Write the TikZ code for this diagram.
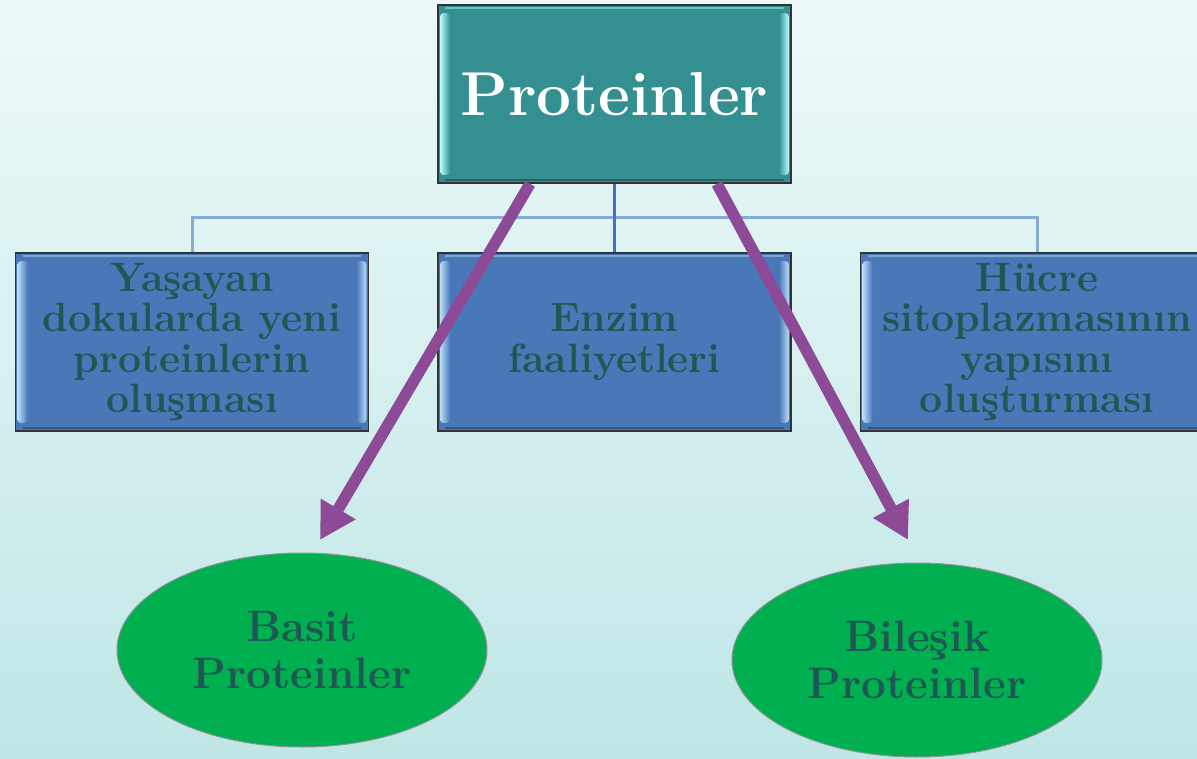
\documentclass[tikz,border=0pt]{standalone}
\usetikzlibrary{shapes.geometric,arrows.meta,calc}
\definecolor{bgtop}{HTML}{EDF9F9}
\definecolor{bgbot}{HTML}{BFE6E6}
\definecolor{tealbox}{HTML}{338F90}
\definecolor{teallight}{HTML}{B5FFFF}
\definecolor{bluebox}{HTML}{4878B8}
\definecolor{bluelight}{HTML}{B8DCF8}
\definecolor{txtdark}{HTML}{1F5853}
\definecolor{greenell}{HTML}{00AF4F}
\definecolor{arrowc}{HTML}{8C4A97}
\definecolor{linkc}{HTML}{86ABD8}
\definecolor{linkdark}{HTML}{3F72C0}
\newcommand\bevelbox[3]{%
  \shade[left color=#2, right color=#3, rounded corners=3pt]
    ($(#1.north west)+(3,9)$) rectangle ($(#1.south west)+(13,-9)$);
  \shade[left color=#3, right color=#2, rounded corners=3pt]
    ($(#1.north east)+(-13,9)$) rectangle ($(#1.south east)+(-3,-9)$);
  \draw[#2!45!#3, line width=2pt]
    ($(#1.north west)+(8,3.5)$) -- ($(#1.north east)+(-8,3.5)$);
  \draw[#3!70!black, line width=2pt]
    ($(#1.south west)+(8,-3.5)$) -- ($(#1.south east)+(-8,-3.5)$);
}
\tikzset{
  box/.style={draw=black!80, line width=1.6pt, minimum width=353pt, minimum height=178pt,
    inner sep=0pt, align=center, text=txtdark, font=\fontsize{41}{40.5}\selectfont\bfseries},
  topbox/.style={box, fill=tealbox, text=white, font=\fontsize{62}{66}\selectfont\bfseries},
  subbox/.style={box, fill=bluebox},
  ell/.style={ellipse, draw=gray!85, line width=1pt, fill=greenell, minimum width=370pt,
    minimum height=194pt, inner sep=0pt, align=center, text=txtdark,
    font=\fontsize{44}{47}\selectfont\bfseries},
  link/.style={draw=linkc, line width=3pt},
  bigarrow/.style={draw=arrowc, line width=11.5pt, -{Triangle[length=36pt,width=38pt]}},
}
\begin{document}
\begin{tikzpicture}[x=1pt,y=-1pt]
\clip (0,0) rectangle (1197,759);
\shade[top color=bgtop, bottom color=bgbot] (0,0) rectangle (1197,759);

% nodes
\node[topbox] (top) at (614.5,94) {Proteinler};
\node[subbox] (left) at (192,342) {Yaşayan\\dokularda yeni\\proteinlerin\\oluşması};
\node[subbox] (mid) at (614.5,342) {Enzim\\faaliyetleri};
\node[subbox] (right) at (1037,342) {Hücre\\sitoplazmasının\\yapısını\\oluşturması};
\coordinate (bus) at (614.5,218);

% connectors
\draw[link] (left.north) |- (bus) -| (right.north);
\draw[link, draw=linkdark] (top.south) -- (mid.north);

% bevels
\bevelbox{top}{teallight}{tealbox}
\bevelbox{left}{bluelight}{bluebox}
\bevelbox{mid}{bluelight}{bluebox}
\bevelbox{right}{bluelight}{bluebox}

% ellipses
\node[ell] (basit) at (302,650) {Basit\\Proteinler};
\node[ell] (bilesik) at (917,660) {Bileşik\\Proteinler};

% arrows
\coordinate (a1s) at ($(top.south)+(-84.5,0)$);
\coordinate (a1e) at ($(basit)+(18,-110)$);
\coordinate (a2s) at ($(top.south)+(102.5,0)$);
\coordinate (a2e) at ($(bilesik)+(-9,-120)$);
\draw[bigarrow] (a1s) -- (a1e);
\draw[bigarrow] (a2s) -- (a2e);
\end{tikzpicture}
\end{document}
